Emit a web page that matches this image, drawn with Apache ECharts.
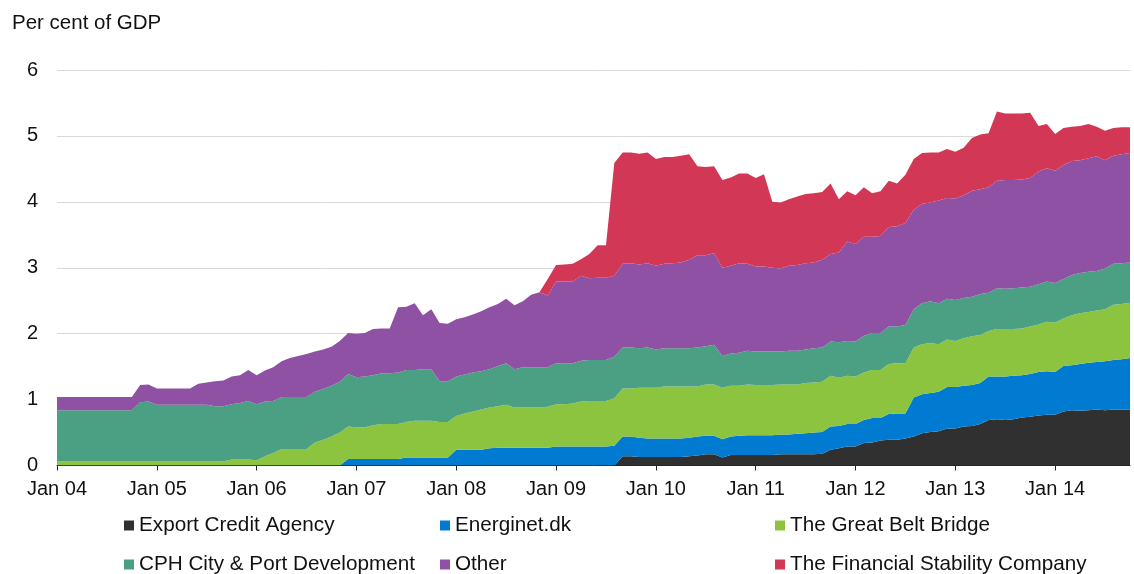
<!DOCTYPE html>
<html>
<head>
<meta charset="utf-8">
<script src="https://cdn.jsdelivr.net/npm/echarts@6/dist/echarts.min.js"></script>
<style>
  html, body { margin: 0; padding: 0; background: #fff; }
  #chart { width: 1134px; height: 574px; }
</style>
</head>
<body>
<div id="chart"></div>
<script>
// month labels, Jan 04 .. Oct 14
const monthNames = ['Jan', 'Feb', 'Mar', 'Apr', 'May', 'Jun', 'Jul', 'Aug', 'Sep', 'Oct', 'Nov', 'Dec'];
const years = ['04', '05', '06', '07', '08', '09', '10', '11', '12', '13', '14'];
const lastMonthOfLastYear = 10; // data runs through Oct 14

const categories = [];
years.forEach((y, yi) => {
  const n = yi === years.length - 1 ? lastMonthOfLastYear : 12;
  for (let i = 0; i < n; i++) categories.push(monthNames[i] + ' ' + y);
});

// per cent of GDP, one value per month
const exportCredit = [
  0, 0, 0, 0, 0, 0, 0, 0, 0, 0, 0, 0,
  0, 0, 0, 0, 0, 0, 0, 0, 0, 0, 0, 0,
  0, 0, 0, 0, 0, 0, 0, 0, 0, 0, 0, 0,
  0, 0, 0, 0, 0, 0, 0, 0, 0, 0, 0, 0,
  0, 0, 0, 0, 0, 0, 0, 0, 0, 0, 0, 0,
  0, 0, 0, 0, 0, 0, 0, 0, 0.14, 0.14, 0.13, 0.13,
  0.13, 0.13, 0.13, 0.13, 0.14, 0.15, 0.17, 0.17, 0.12, 0.16, 0.16, 0.16,
  0.16, 0.16, 0.16, 0.17, 0.17, 0.17, 0.17, 0.17, 0.18, 0.24, 0.26, 0.29,
  0.29, 0.34, 0.35, 0.38, 0.39, 0.39, 0.41, 0.44, 0.49, 0.51, 0.52, 0.56,
  0.56, 0.59, 0.60, 0.63, 0.69, 0.70, 0.69, 0.70, 0.73, 0.74, 0.76, 0.77,
  0.77, 0.82, 0.84, 0.83, 0.84, 0.85, 0.84, 0.85, 0.85, 0.85
];
const energinet = [
  0, 0, 0, 0, 0, 0, 0, 0, 0, 0, 0, 0,
  0, 0, 0, 0, 0, 0, 0, 0, 0, 0, 0, 0,
  0, 0, 0, 0, 0, 0, 0, 0, 0, 0, 0, 0.10,
  0.10, 0.10, 0.10, 0.10, 0.10, 0.10, 0.12, 0.12, 0.12, 0.12, 0.12, 0.12,
  0.24, 0.24, 0.24, 0.24, 0.26, 0.27, 0.27, 0.27, 0.27, 0.27, 0.27, 0.27,
  0.29, 0.29, 0.29, 0.29, 0.29, 0.29, 0.29, 0.30, 0.30, 0.30, 0.29, 0.28,
  0.28, 0.28, 0.28, 0.28, 0.28, 0.29, 0.28, 0.28, 0.28, 0.28, 0.29, 0.30,
  0.30, 0.30, 0.30, 0.30, 0.30, 0.31, 0.32, 0.33, 0.33, 0.35, 0.34, 0.34,
  0.34, 0.35, 0.37, 0.34, 0.39, 0.40, 0.38, 0.59, 0.59, 0.59, 0.60, 0.63,
  0.63, 0.62, 0.62, 0.62, 0.66, 0.65, 0.66, 0.66, 0.64, 0.65, 0.66, 0.66,
  0.65, 0.69, 0.68, 0.71, 0.72, 0.72, 0.74, 0.75, 0.76, 0.78
];
const greatBelt = [
  0.06, 0.06, 0.06, 0.06, 0.06, 0.06, 0.06, 0.06, 0.06, 0.06, 0.06, 0.06,
  0.06, 0.06, 0.06, 0.06, 0.06, 0.06, 0.06, 0.06, 0.06, 0.09, 0.09, 0.09,
  0.08, 0.14, 0.19, 0.25, 0.25, 0.25, 0.25, 0.35, 0.39, 0.44, 0.50, 0.49,
  0.48, 0.48, 0.51, 0.53, 0.53, 0.53, 0.54, 0.56, 0.56, 0.56, 0.54, 0.54,
  0.51, 0.55, 0.58, 0.61, 0.62, 0.63, 0.65, 0.61, 0.61, 0.61, 0.61, 0.62,
  0.64, 0.64, 0.65, 0.68, 0.69, 0.69, 0.69, 0.72, 0.73, 0.73, 0.76, 0.77,
  0.77, 0.79, 0.79, 0.79, 0.78, 0.76, 0.78, 0.78, 0.78, 0.77, 0.76, 0.77,
  0.76, 0.76, 0.76, 0.76, 0.76, 0.75, 0.76, 0.76, 0.76, 0.77, 0.73, 0.73,
  0.72, 0.72, 0.73, 0.73, 0.76, 0.76, 0.76, 0.76, 0.76, 0.76, 0.72, 0.72,
  0.70, 0.72, 0.74, 0.73, 0.69, 0.72, 0.72, 0.71, 0.71, 0.72, 0.72, 0.75,
  0.75, 0.72, 0.76, 0.77, 0.77, 0.78, 0.79, 0.84, 0.84, 0.84
];
const cphCityPort = [
  0.78, 0.78, 0.78, 0.78, 0.78, 0.78, 0.78, 0.78, 0.78, 0.78, 0.90, 0.91,
  0.86, 0.86, 0.86, 0.86, 0.86, 0.86, 0.86, 0.84, 0.84, 0.84, 0.86, 0.89,
  0.85, 0.83, 0.79, 0.79, 0.79, 0.79, 0.79, 0.77, 0.77, 0.77, 0.77, 0.80,
  0.76, 0.77, 0.76, 0.77, 0.77, 0.78, 0.79, 0.77, 0.78, 0.78, 0.62, 0.62,
  0.60, 0.59, 0.59, 0.58, 0.58, 0.61, 0.63, 0.58, 0.61, 0.61, 0.61, 0.60,
  0.62, 0.62, 0.61, 0.62, 0.62, 0.62, 0.62, 0.63, 0.62, 0.62, 0.60, 0.61,
  0.58, 0.58, 0.58, 0.58, 0.58, 0.59, 0.58, 0.60, 0.48, 0.49, 0.50, 0.51,
  0.51, 0.51, 0.51, 0.50, 0.51, 0.51, 0.51, 0.52, 0.52, 0.52, 0.54, 0.53,
  0.53, 0.56, 0.56, 0.56, 0.57, 0.56, 0.58, 0.58, 0.62, 0.63, 0.62, 0.62,
  0.62, 0.61, 0.60, 0.62, 0.58, 0.62, 0.61, 0.62, 0.62, 0.60, 0.61, 0.61,
  0.60, 0.60, 0.61, 0.61, 0.61, 0.60, 0.62, 0.62, 0.62, 0.61
];
const other = [
  0.20, 0.20, 0.20, 0.20, 0.20, 0.20, 0.20, 0.20, 0.20, 0.20, 0.26, 0.26,
  0.25, 0.25, 0.25, 0.25, 0.25, 0.32, 0.34, 0.38, 0.39, 0.42, 0.42, 0.47,
  0.44, 0.47, 0.51, 0.54, 0.59, 0.62, 0.65, 0.61, 0.60, 0.59, 0.62, 0.62,
  0.66, 0.66, 0.70, 0.68, 0.68, 0.99, 0.96, 1.01, 0.82, 0.91, 0.88, 0.87,
  0.87, 0.87, 0.88, 0.91, 0.94, 0.94, 0.98, 0.97, 1.00, 1.10, 1.14, 1.09,
  1.24, 1.24, 1.24, 1.29, 1.24, 1.25, 1.25, 1.23, 1.27, 1.28, 1.27, 1.28,
  1.27, 1.28, 1.29, 1.30, 1.34, 1.40, 1.38, 1.39, 1.34, 1.33, 1.36, 1.32,
  1.29, 1.29, 1.27, 1.26, 1.29, 1.30, 1.31, 1.30, 1.33, 1.33, 1.36, 1.51,
  1.48, 1.50, 1.46, 1.47, 1.51, 1.52, 1.55, 1.51, 1.51, 1.50, 1.56, 1.53,
  1.54, 1.56, 1.61, 1.59, 1.60, 1.63, 1.65, 1.64, 1.64, 1.65, 1.71, 1.72,
  1.70, 1.73, 1.73, 1.71, 1.72, 1.74, 1.64, 1.64, 1.65, 1.66
];
const financialStability = [
  0, 0, 0, 0, 0, 0, 0, 0, 0, 0, 0, 0,
  0, 0, 0, 0, 0, 0, 0, 0, 0, 0, 0, 0,
  0, 0, 0, 0, 0, 0, 0, 0, 0, 0, 0, 0,
  0, 0, 0, 0, 0, 0, 0, 0, 0, 0, 0, 0,
  0, 0, 0, 0, 0, 0, 0, 0, 0, 0, 0, 0.25,
  0.25, 0.26, 0.27, 0.25, 0.37, 0.49, 0.49, 1.71, 1.69, 1.68, 1.68, 1.68,
  1.62, 1.62, 1.61, 1.62, 1.60, 1.35, 1.34, 1.32, 1.33, 1.34, 1.36, 1.37,
  1.34, 1.40, 1.00, 1.00, 1.01, 1.04, 1.05, 1.05, 1.03, 1.07, 0.81, 0.76,
  0.74, 0.75, 0.66, 0.68, 0.70, 0.65, 0.73, 0.77, 0.77, 0.76, 0.73, 0.74,
  0.71, 0.72, 0.80, 0.83, 0.82, 1.05, 1.01, 1.01, 1.00, 0.99, 0.69, 0.67,
  0.56, 0.56, 0.52, 0.52, 0.52, 0.45, 0.45, 0.42, 0.41, 0.39
];

const FONT = 'Liberation Sans, Arial, sans-serif';

// stacked from the bottom up; legend position given as [left, top]
const seriesDefs = [
  { name: 'Export Credit Agency', data: exportCredit, color: '#303030', at: [124, 515] },
  { name: 'Energinet.dk', data: energinet, color: '#007bd1', at: [440, 515] },
  { name: 'The Great Belt Bridge', data: greatBelt, color: '#8cc43f', at: [775, 515] },
  { name: 'CPH City & Port Development', data: cphCityPort, color: '#4ba083', at: [124, 554] },
  { name: 'Other', data: other, color: '#8f51a4', at: [440, 554] },
  { name: 'The Financial Stability Company', data: financialStability, color: '#d33756', at: [775, 554] }
];

const chart = echarts.init(document.getElementById('chart'));

const option = {
  animation: false,
  backgroundColor: '#fff',
  graphic: [{
    type: 'text',
    left: 12,
    top: 13,
    style: { text: 'Per cent of GDP', font: '20.5px ' + FONT, fill: '#111' }
  }],
  // one legend per entry so the three columns line up like the original
  legend: seriesDefs.map(s => ({
    left: s.at[0],
    top: s.at[1],
    padding: 0,
    itemWidth: 10,
    itemHeight: 10,
    icon: 'rect',
    selectedMode: false,
    data: [s.name],
    textStyle: { fontFamily: FONT, fontSize: 20.7, color: '#111', lineHeight: 21 }
  })),
  grid: { left: 57, right: 4, top: 70, bottom: 108.5, containLabel: false },
  xAxis: {
    type: 'category',
    boundaryGap: false,
    data: categories,
    axisLine: { lineStyle: { color: '#222', width: 1 } },
    axisTick: {
      length: 5,
      lineStyle: { color: '#222' },
      interval: function (i) { return i % 12 === 0; }
    },
    axisLabel: {
      interval: function (i) { return i % 12 === 0; },
      margin: 14,
      color: '#111',
      fontFamily: FONT,
      fontSize: 20
    },
    splitLine: { show: false }
  },
  yAxis: {
    type: 'value',
    min: 0,
    max: 6,
    interval: 1,
    axisLine: { show: false },
    axisTick: { show: false },
    axisLabel: { margin: 19, color: '#111', fontFamily: FONT, fontSize: 20 },
    splitLine: { lineStyle: { color: '#d9d9d9', width: 1 } }
  },
  series: seriesDefs.map(s => ({
    name: s.name,
    type: 'line',
    stack: 'total',
    data: s.data,
    color: s.color,
    symbol: 'none',
    showSymbol: false,
    lineStyle: { width: 0 },
    areaStyle: { color: s.color, opacity: 1 },
    emphasis: { disabled: true },
    silent: true
  }))
};

chart.setOption(option);
</script>
</body>
</html>
